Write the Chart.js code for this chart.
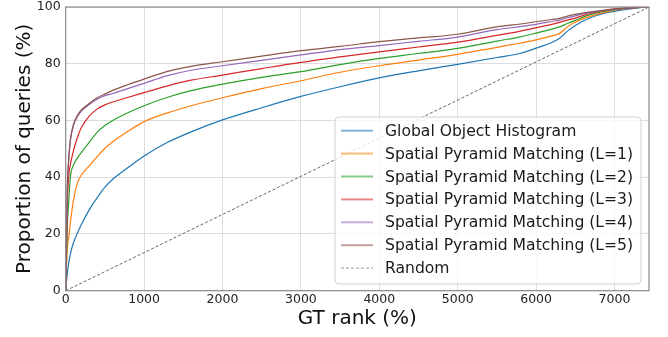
<!DOCTYPE html>
<html>
<head>
<meta charset="utf-8">
<script src="https://cdn.jsdelivr.net/npm/chart.js@4/dist/chart.umd.min.js"></script>
<style>
  html, body { margin: 0; padding: 0; background: #fff; }
  #wrap { width: 668px; height: 337px; }
</style>
</head>
<body>
<div id="wrap"><canvas id="rank-chart" width="668" height="337"></canvas></div>
<script>
// GT rank sample positions (x) and proportion of queries (%) per method
var ranks = [0, 20, 40, 60, 100, 150, 200, 300, 400, 500, 600, 800, 1000, 1300, 1600, 2000, 2500, 3000, 3500, 4000, 4500, 5000, 5500, 5800, 6000, 6200, 6300, 6400, 6500, 6700, 6900, 7100, 7300, 7440];

var globalHist = [0, 6, 10, 13, 17, 20.3, 23.3, 28.5, 32.7, 36.5, 39.3, 43.5, 47.5, 52.3, 56, 60.2, 64.5, 68.5, 71.9, 75, 77.5, 79.8, 82.2, 83.7, 85.5, 87.5, 89, 91.5, 93.5, 96.3, 98, 99, 99.7, 100];
var spmL1 = [0, 14.5, 19, 24, 32, 38, 40.8, 44, 47.2, 50.2, 52.5, 56.3, 59.6, 62.7, 65.2, 68, 71.2, 74, 77, 79.3, 81.3, 83.3, 85.8, 87.3, 88.4, 89.8, 90.7, 93, 94.7, 96.8, 98.3, 99.3, 99.8, 100];
var spmL2 = [0, 22, 32, 40, 44.3, 46.8, 48.7, 52.3, 55.8, 58.2, 60, 62.8, 65.2, 68.2, 70.5, 72.8, 75.2, 77.2, 79.7, 81.9, 83.6, 85.4, 88, 89.5, 90.8, 92.2, 93, 94.2, 95.3, 97.4, 98.6, 99.4, 99.8, 100];
var spmL3 = [0, 30, 40.5, 44.5, 49.5, 54, 57.5, 61.5, 64, 65.5, 66.5, 68.2, 69.8, 72.2, 74.2, 76, 78.3, 80.5, 82.4, 84.2, 85.9, 87.6, 90, 91.5, 92.7, 93.9, 94.6, 95.4, 96.1, 97.8, 98.9, 99.5, 99.9, 100];
var spmL4 = [0, 35, 46.5, 53, 58.3, 61.3, 63.3, 65.6, 67.5, 68.7, 69.5, 71.3, 73.1, 75.8, 77.7, 79.3, 81.2, 83.1, 85, 86.4, 87.9, 89.4, 92, 93.1, 93.9, 94.9, 95.4, 96.2, 96.9, 98.1, 98.9, 99.5, 99.9, 100];
var spmL5 = [0, 36, 47, 53.3, 58.7, 61.8, 63.7, 66, 68, 69.3, 70.6, 72.7, 74.6, 77.3, 79.1, 80.7, 82.7, 84.6, 86.1, 87.8, 89.1, 90.4, 93, 94, 94.8, 95.6, 96, 96.8, 97.4, 98.3, 99, 99.5, 99.9, 100];

var randomX = [0, 7440];
var randomY = [0, 100];

var seriesNames = ['Global Object Histogram', 'Spatial Pyramid Matching (L=1)', 'Spatial Pyramid Matching (L=2)',
    'Spatial Pyramid Matching (L=3)', 'Spatial Pyramid Matching (L=4)', 'Spatial Pyramid Matching (L=5)', 'Random'];
var seriesValues = [globalHist, spmL1, spmL2, spmL3, spmL4, spmL5];
var seriesColors = ['#1f77b4', '#ff7f0e', '#2ca02c', '#d62728', '#9467bd', '#8c564b'];

var xTicks = [0, 1000, 2000, 3000, 4000, 5000, 6000, 7000];
var yTicks = [0, 20, 40, 60, 80, 100];

function points(xs, ys) {
    return xs.map(function (x, i) { return {x: x, y: ys[i]}; });
}

var datasets = seriesValues.map(function (vals, i) {
    return {
        label: seriesNames[i],
        data: points(ranks, vals),
        borderColor: seriesColors[i],
        borderWidth: 1.2,
        pointRadius: 0,
        tension: 0.3,
        cubicInterpolationMode: 'monotone',
        order: 10 - i
    };
});
datasets.push({
    label: seriesNames[6],
    data: points(randomX, randomY),
    borderColor: '#666666',
    borderWidth: 1,
    borderDash: [3, 2],
    pointRadius: 0,
    tension: 0,
    order: 0
});

// grey frame round the plot + legend box inside the plot (like matplotlib)
var framePlugin = {
    id: 'frame',
    afterDatasetsDraw: function (chart) {
        var ctx = chart.ctx, a = chart.chartArea;
        ctx.save();
        ctx.strokeStyle = '#8a8a8a';
        ctx.lineWidth = 1.2;
        ctx.strokeRect(a.left, a.top, a.right - a.left, a.bottom - a.top);

        // legend
        var bx = 335, by = 117, bw = 306, bh = 167, r = 4;
        ctx.beginPath();
        ctx.moveTo(bx + r, by);
        ctx.arcTo(bx + bw, by, bx + bw, by + bh, r);
        ctx.arcTo(bx + bw, by + bh, bx, by + bh, r);
        ctx.arcTo(bx, by + bh, bx, by, r);
        ctx.arcTo(bx, by, bx + bw, by, r);
        ctx.closePath();
        ctx.fillStyle = 'rgba(255,255,255,0.8)';
        ctx.fill();
        ctx.strokeStyle = '#d0d0d0';
        ctx.lineWidth = 1;
        ctx.stroke();

        ctx.font = '15.6px "DejaVu Sans"';
        ctx.textBaseline = 'middle';
        chart.data.datasets.forEach(function (ds, i) {
            var yy = 130.7 + i * 22.9;
            ctx.save();
            ctx.globalAlpha = 0.55;
            ctx.strokeStyle = ds.borderColor;
            ctx.lineWidth = ds.borderDash ? 1.2 : 2;
            ctx.setLineDash(ds.borderDash || []);
            ctx.beginPath();
            ctx.moveTo(341, yy);
            ctx.lineTo(373, yy);
            ctx.stroke();
            ctx.restore();
            ctx.fillStyle = '#1a1a1a';
            ctx.fillText(ds.label, 385, yy + 1);
        });
        ctx.restore();
    }
};

var ctx = document.getElementById('rank-chart').getContext('2d');
var myChart = new Chart(ctx, {
    type: 'line',
    data: { datasets: datasets },
    options: {
        responsive: false,
        animation: false,
        layout: { padding: { top: 7, right: 19, left: 0, bottom: 0 } },
        plugins: {
            legend: { display: false },
            tooltip: { enabled: false }
        },
        scales: {
            x: {
                type: 'linear',
                min: 0,
                max: 7440,
                afterFit: function (s) { s.height = 46.3; s.paddingLeft = 0; s.paddingRight = 0; },
                afterBuildTicks: function (s) { s.ticks = xTicks.map(function (v) { return {value: v}; }); },
                ticks: { font: { family: 'DejaVu Sans', size: 12.5 }, color: '#222', padding: 2, maxRotation: 0,
                    callback: function (v) { return String(v); } },
                grid: { color: '#dddddd', lineWidth: 1, drawTicks: false },
                border: { display: false },
                title: { display: true, text: 'GT rank (%)', color: '#111', font: { family: 'DejaVu Sans', size: 20 }, padding: { top: 0, bottom: 6 } }
            },
            y: {
                min: 0,
                max: 100,
                afterFit: function (s) { s.width = 65.7; s.paddingTop = 0; s.paddingBottom = 0; },
                afterBuildTicks: function (s) { s.ticks = yTicks.map(function (v) { return {value: v}; }); },
                ticks: { font: { family: 'DejaVu Sans', size: 12.5 }, color: '#222', padding: 5,
                    callback: function (v) { return String(v); } },
                grid: { color: '#dddddd', lineWidth: 1, drawTicks: false },
                border: { display: false },
                title: { display: true, text: 'Proportion of queries (%)', color: '#111', font: { family: 'DejaVu Sans', size: 20 }, padding: { top: 13, bottom: 0 } }
            }
        }
    },
    plugins: [framePlugin]
});
</script>
</body>
</html>
